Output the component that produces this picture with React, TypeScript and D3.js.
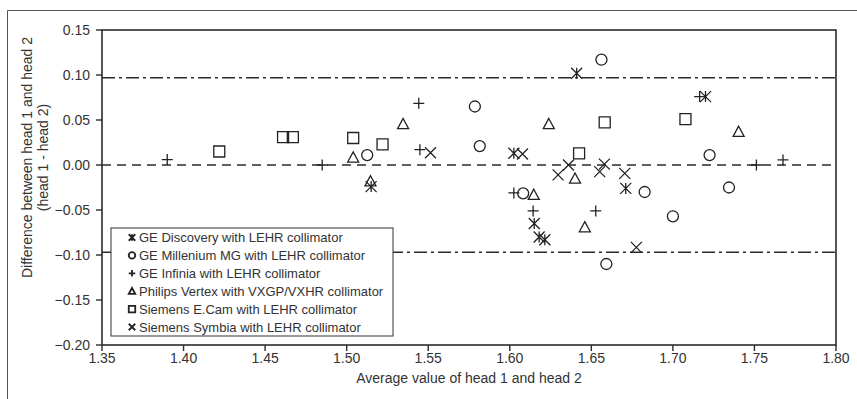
import * as d3 from "d3";

// Bland-Altman style plot: difference between head 1 and head 2
const seriesNames = [
  "GE Discovery with LEHR collimator",
  "GE Millenium MG with LEHR collimator",
  "GE Infinia with LEHR collimator",
  "Philips Vertex with VXGP/VXHR collimator",
  "Siemens E.Cam with LEHR collimator",
  "Siemens Symbia with LEHR collimator",
];
const seriesMarkers = ["star", "circle", "plus", "triangle", "square", "cross"];

// [average, difference]
const geDiscovery: [number, number][] = [
  [1.515, -0.024], [1.6025, 0.013], [1.615, -0.065], [1.618, -0.08],
  [1.6215, -0.083], [1.641, 0.102], [1.6711, -0.026], [1.72, 0.076],
];
const geMillenium: [number, number][] = [
  [1.5126, 0.011], [1.5786, 0.065], [1.5816, 0.021], [1.6082, -0.0315],
  [1.6562, 0.117], [1.6592, -0.11], [1.6827, -0.03], [1.7, -0.057],
  [1.7225, 0.011], [1.7344, -0.025],
];
const geInfinia: [number, number][] = [
  [1.39, 0.006], [1.485, 0.0], [1.5442, 0.0685], [1.5449, 0.017],
  [1.6025, -0.031], [1.6143, -0.051], [1.6527, -0.051], [1.7164, 0.076],
  [1.7512, 0.0], [1.7675, 0.0056],
];
const philipsVertex: [number, number][] = [
  [1.504, 0.0085], [1.5146, -0.018], [1.5346, 0.0456], [1.6147, -0.033],
  [1.6239, 0.0456], [1.64, -0.015], [1.646, -0.069], [1.7403, 0.037],
];
const siemensECam: [number, number][] = [
  [1.4219, 0.015], [1.461, 0.031], [1.467, 0.031], [1.504, 0.03],
  [1.522, 0.023], [1.6425, 0.013], [1.6582, 0.0474], [1.7077, 0.051],
];
const siemensSymbia: [number, number][] = [
  [1.5514, 0.0137], [1.6078, 0.0122], [1.6296, -0.011], [1.636, 0.0],
  [1.6551, -0.0074], [1.658, 0.001], [1.6705, -0.0093], [1.6776, -0.0915],
];
const allSeries = [geDiscovery, geMillenium, geInfinia, philipsVertex, siemensECam, siemensSymbia];

const meanDiff = 0;
const limitsOfAgreement = [0.097, -0.097];

const xTicks = [1.35, 1.4, 1.45, 1.5, 1.55, 1.6, 1.65, 1.7, 1.75, 1.8];
const yTicks = [0.15, 0.1, 0.05, 0.0, -0.05, -0.1, -0.15, -0.2];

const W = 857;
const H = 399;
const margin = { top: 30, right: 21, bottom: 54, left: 102 };
const FONT = "'Liberation Sans', Arial, sans-serif";
const INK = "#2b2b2b";

function markerPath(type: string, s: number): string {
  const h = s / 2;
  switch (type) {
    case "circle":
      return `M${h},0A${h},${h} 0 1,1 ${-h},0A${h},${h} 0 1,1 ${h},0Z`;
    case "square":
      return `M${-h},${-h}H${h}V${h}H${-h}Z`;
    case "triangle":
      return `M0,${-h}L${h},${h * 0.85}L${-h},${h * 0.85}Z`;
    case "plus":
      return `M${-h},0H${h}M0,${-h}V${h}`;
    case "cross":
      return `M${-h},${-h}L${h},${h}M${h},${-h}L${-h},${h}`;
    case "star":
      return `M${-h},${-h}L${h},${h}M${h},${-h}L${-h},${h}M0,${-h}V${h}`;
    default:
      return "";
  }
}

export default function App() {
  const x = d3
    .scaleLinear()
    .domain([1.35, 1.8])
    .range([margin.left, W - margin.right]);
  const y = d3
    .scaleLinear()
    .domain([-0.2, 0.15])
    .range([H - margin.bottom, margin.top]);

  const x0 = x.range()[0];
  const x1 = x.range()[1];
  const yTop = y.range()[1];
  const yBot = y.range()[0];

  const legend = { x: 111, y: 228, w: 282, h: 108, row: 17.9 };

  return (
    <div style={{ position: "absolute", left: 0, top: 0, width: W, height: H, background: "#fff" }}>
      <svg width={W} height={H} style={{ display: "block" }} fontFamily={FONT}>
        {/* outer frame */}
        <path d={`M7.5,${H}V10.5H${W}`} fill="none" stroke="#555" strokeWidth={1} />

        {/* plot frame */}
        <rect
          x={x0}
          y={yTop}
          width={x1 - x0}
          height={yBot - yTop}
          fill="none"
          stroke={INK}
          strokeWidth={1.6}
        />

        {/* reference lines */}
        <line
          x1={x0}
          x2={x1}
          y1={y(meanDiff)}
          y2={y(meanDiff)}
          stroke={INK}
          strokeWidth={1.5}
          strokeDasharray="9,6"
        />
        {limitsOfAgreement.map((v) => (
          <line
            key={v}
            x1={x0}
            x2={x1}
            y1={y(v)}
            y2={y(v)}
            stroke={INK}
            strokeWidth={1.5}
            strokeDasharray="13,4,3,4"
          />
        ))}

        {/* y axis ticks */}
        {yTicks.map((t) => (
          <g key={t} transform={`translate(${x0},${y(t)})`}>
            <line x1={-6} x2={0} stroke={INK} strokeWidth={1.4} />
            <text
              x={-12}
              dy="0.35em"
              textAnchor="end"
              fontSize={14}
              fill="#333"
            >
              {d3.format(".2f")(t)}
            </text>
          </g>
        ))}

        {/* x axis ticks */}
        {xTicks.map((t) => (
          <g key={t} transform={`translate(${x(t)},${yBot})`}>
            <line y1={0} y2={6} stroke={INK} strokeWidth={1.4} />
            <text y={13} dy="0.35em" textAnchor="middle" fontSize={14} fill="#333">
              {d3.format(".2f")(t)}
            </text>
          </g>
        ))}

        {/* axis titles */}
        <text
          x={(x0 + x1) / 2}
          y={378}
          dy="0.35em"
          textAnchor="middle"
          fontSize={14}
          fill="#333"
        >
          Average value of head 1 and head 2
        </text>
        <g transform={`translate(27,${(yTop + yBot) / 2 - 30}) rotate(-90)`}>
          <text textAnchor="middle" dy="0.35em" fontSize={14} fill="#333">
            Difference between head 1 and head 2
          </text>
          <text y={16} textAnchor="middle" dy="0.35em" fontSize={14} fill="#333">
            (head 1 - head 2)
          </text>
        </g>

        {/* data points */}
        {allSeries.map((pts, si) => (
          <g key={si} fill="none" stroke="#222" strokeWidth={1.3}>
            {pts.map((p, i) => (
              <path
                key={i}
                transform={`translate(${x(p[0])},${y(p[1])})`}
                d={markerPath(seriesMarkers[si], 11)}
              />
            ))}
          </g>
        ))}

        {/* legend */}
        <rect
          x={legend.x}
          y={legend.y}
          width={legend.w}
          height={legend.h}
          fill="#fff"
          stroke="#333"
          strokeWidth={1}
        />
        {seriesNames.map((name, i) => {
          const cy = legend.y + 9.5 + i * legend.row;
          return (
            <g key={name}>
              <path
                transform={`translate(${132},${cy})`}
                d={markerPath(seriesMarkers[i], 6.5)}
                fill="none"
                stroke="#222"
                strokeWidth={1.8}
              />
              <text x={139} y={cy} dy="0.35em" fontSize={13} fill="#333">
                {name}
              </text>
            </g>
          );
        })}
      </svg>
    </div>
  );
}
